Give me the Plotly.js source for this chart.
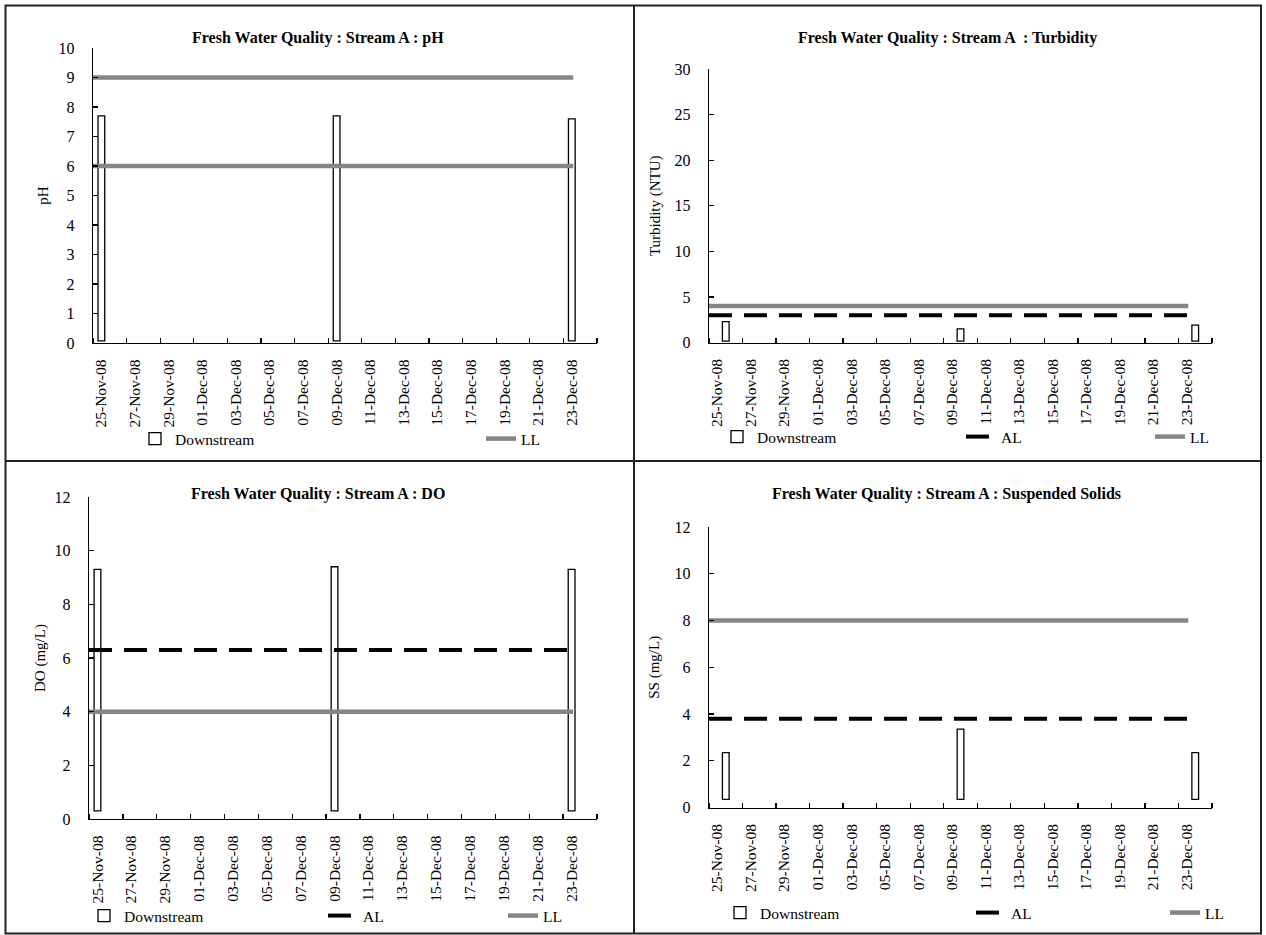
<!DOCTYPE html>
<html>
<head>
<meta charset="utf-8">
<script src="https://cdn.plot.ly/plotly-3.0.1.min.js"></script>
<style>html,body{margin:0;padding:0;background:#fff;}#chart{width:1266px;height:935px;}</style>
</head>
<body>
<div id="chart"></div>
<script>
// ---------------- data ----------------
const sampleDates = ['2008-11-25', '2008-12-09', '2008-12-23'];
const dateLabels = ['25-Nov-08','27-Nov-08','29-Nov-08','01-Dec-08','03-Dec-08','05-Dec-08','07-Dec-08',
  '09-Dec-08','11-Dec-08','13-Dec-08','15-Dec-08','17-Dec-08','19-Dec-08','21-Dec-08','23-Dec-08'];
const labelDates = ['2008-11-25','2008-11-27','2008-11-29','2008-12-01','2008-12-03','2008-12-05','2008-12-07',
  '2008-12-09','2008-12-11','2008-12-13','2008-12-15','2008-12-17','2008-12-19','2008-12-21','2008-12-23'];
const axisRange = ['2008-11-25', '2008-12-25'];
const limitSpan = ['2008-11-25 00:00', '2008-12-23 14:00'];

const phDownstream = [7.7, 7.7, 7.6];
const phBase = [0.07, 0.07, 0.07];
const phLL = [9, 6];

const turbDownstream = [2.3, 1.5, 1.9];
const turbBase = [0.15, 0.15, 0.15];
const turbAL = 3;
const turbLL = 4;

const doDownstream = [9.3, 9.4, 9.3];
const doBase = [0.3, 0.3, 0.3];
const doAL = 6.3;
const doLL = 4;

const ssDownstream = [2.35, 3.35, 2.35];
const ssBase = [0.35, 0.35, 0.35];
const ssAL = 3.8;
const ssLL = 8;

const titles = ['Fresh Water Quality : Stream A : pH', 'Fresh Water Quality : Stream A  : Turbidity',
  'Fresh Water Quality : Stream A : DO', 'Fresh Water Quality : Stream A : Suspended Solids'];
const yTitles = ['pH', 'Turbidity (NTU)', 'DO (mg/L)', 'SS (mg/L)'];

// ---------------- style ----------------
const FONT = 'Liberation Serif';
const W = 1266, H = 935;
const DAY = 86400000;
const px = v => v / W;
const py = v => 1 - v / H;
const LLCOLOR = '#858585';

function barTrace(vals, base, xa, ya, align, legend) {
  return {
    type: 'bar', name: 'Downstream', x: sampleDates,
    y: vals.map((v, i) => v - base[i]), base: base,
    xperiod: DAY, xperiodalignment: align, width: 0.4 * DAY,
    marker: {color: '#ffffff', line: {color: '#000000', width: 1.3}},
    xaxis: xa, yaxis: ya, legend: legend, hoverinfo: 'skip'
  };
}
function alTrace(v, xa, ya, legend) {
  return {
    type: 'scatter', mode: 'lines', name: 'AL', x: limitSpan, y: [v, v],
    line: {color: '#000000', width: 4, dash: '23px,12px'},
    xaxis: xa, yaxis: ya, legend: legend, hoverinfo: 'skip'
  };
}
function llTrace(vals, xa, ya, legend) {
  const x = [], y = [];
  vals.forEach((v, i) => { if (i) { x.push(null); y.push(null); } x.push(limitSpan[0], limitSpan[1]); y.push(v, v); });
  return {
    type: 'scatter', mode: 'lines', name: 'LL', x: x, y: y, connectgaps: false,
    line: {color: LLCOLOR, width: 4.5},
    xaxis: xa, yaxis: ya, legend: legend, hoverinfo: 'skip'
  };
}

const traces = [
  barTrace(phDownstream, phBase, 'x', 'y', 'middle', 'legend'),
  llTrace(phLL, 'x', 'y', 'legend2'),
  barTrace(turbDownstream, turbBase, 'x2', 'y2', 'end', 'legend3'),
  alTrace(turbAL, 'x2', 'y2', 'legend4'),
  llTrace([turbLL], 'x2', 'y2', 'legend5'),
  barTrace(doDownstream, doBase, 'x3', 'y3', 'middle', 'legend6'),
  alTrace(doAL, 'x3', 'y3', 'legend7'),
  llTrace([doLL], 'x3', 'y3', 'legend8'),
  barTrace(ssDownstream, ssBase, 'x4', 'y4', 'end', 'legend9'),
  alTrace(ssAL, 'x4', 'y4', 'legend10'),
  llTrace([ssLL], 'x4', 'y4', 'legend11')
];

function xAxis(domain, anchor) {
  return {
    type: 'date', domain: domain, anchor: anchor, range: axisRange,
    showgrid: false, zeroline: false, showline: true, linecolor: '#000', linewidth: 1.3,
    tickmode: 'array', tickvals: labelDates.map(d => d + ' 12:00'), ticktext: dateLabels,
    ticks: '', tickangle: -90, ticklabelstandoff: 9,
    tickfont: {family: FONT, size: 15.5, color: '#000'},
    minor: {tickmode: 'linear', tick0: axisRange[0], dtick: 2 * DAY, ticks: 'inside', ticklen: 5,
      tickwidth: 1.3, tickcolor: '#000', showgrid: false},
    fixedrange: true, automargin: false
  };
}
function yAxis(domain, anchor, rng, dtick, title, standoff) {
  return {
    domain: domain, anchor: anchor, range: rng, dtick: dtick, tick0: 0,
    showgrid: false, zeroline: false, showline: true, linecolor: '#000', linewidth: 1.3,
    ticks: 'inside', ticklen: 5, tickwidth: 1.3, tickcolor: '#000', ticklabelstandoff: 14,
    tickfont: {family: FONT, size: 16, color: '#000'},
    title: {text: title, font: {family: FONT, size: 15, color: '#000'}, standoff: standoff},
    fixedrange: true, automargin: false
  };
}

function legendAt(xpx, ypx) {
  return {x: px(xpx), y: py(ypx), xanchor: 'left', yanchor: 'middle', orientation: 'h',
    bgcolor: 'rgba(0,0,0,0)', borderwidth: 0, font: {family: FONT, size: 15.5, color: '#000'}};
}

const frame = {color: '#222', width: 2};
const shapes = [
  {type: 'rect', xref: 'paper', yref: 'paper', x0: px(5.5), x1: px(1261), y0: py(933.5), y1: py(5.5), line: frame},
  {type: 'line', xref: 'paper', yref: 'paper', x0: px(634), x1: px(634), y0: py(933.5), y1: py(5.5), line: frame},
  {type: 'line', xref: 'paper', yref: 'paper', x0: px(5.5), x1: px(1261), y0: py(461), y1: py(461), line: frame}
];

const titlePos = [[318, 38], [947, 38], [318, 494], [946, 494]];
const annotations = titles.map((t, i) => ({
  text: t, xref: 'paper', yref: 'paper', x: px(titlePos[i][0]), y: py(titlePos[i][1]),
  xanchor: 'center', yanchor: 'middle', showarrow: false,
  font: {family: FONT, size: 16, color: '#000', weight: 'bold'}
}));

const layout = {
  width: W, height: H, margin: {l: 0, r: 0, t: 0, b: 0},
  paper_bgcolor: '#fff', plot_bgcolor: 'rgba(0,0,0,0)', showlegend: true, barmode: 'overlay',
  font: {family: FONT, color: '#000'},
  xaxis: xAxis([px(93), px(597)], 'y'),
  yaxis: yAxis([py(343), py(48)], 'x', [0, 10], 1, yTitles[0], 6),
  xaxis2: xAxis([px(709), px(1212)], 'y2'),
  yaxis2: yAxis([py(342.5), py(69)], 'x2', [0, 30], 5, yTitles[1], 10),
  xaxis3: xAxis([px(89), px(597)], 'y3'),
  yaxis3: yAxis([py(819), py(497)], 'x3', [0, 12], 2, yTitles[2], 5),
  xaxis4: xAxis([px(709), px(1212)], 'y4'),
  yaxis4: yAxis([py(807.5), py(527)], 'x4', [0, 12], 2, yTitles[3], 11),
  legend: legendAt(135, 439),
  legend2: legendAt(481, 439),
  legend3: legendAt(717, 437),
  legend4: legendAt(961, 437),
  legend5: legendAt(1150, 437),
  legend6: legendAt(84, 916),
  legend7: legendAt(323, 916),
  legend8: legendAt(503, 916),
  legend9: legendAt(720, 913),
  legend10: legendAt(971, 913),
  legend11: legendAt(1165, 913),
  shapes: shapes,
  annotations: annotations
};

Plotly.newPlot('chart', traces, layout, {staticPlot: true, displayModeBar: false});
</script>
</body>
</html>
